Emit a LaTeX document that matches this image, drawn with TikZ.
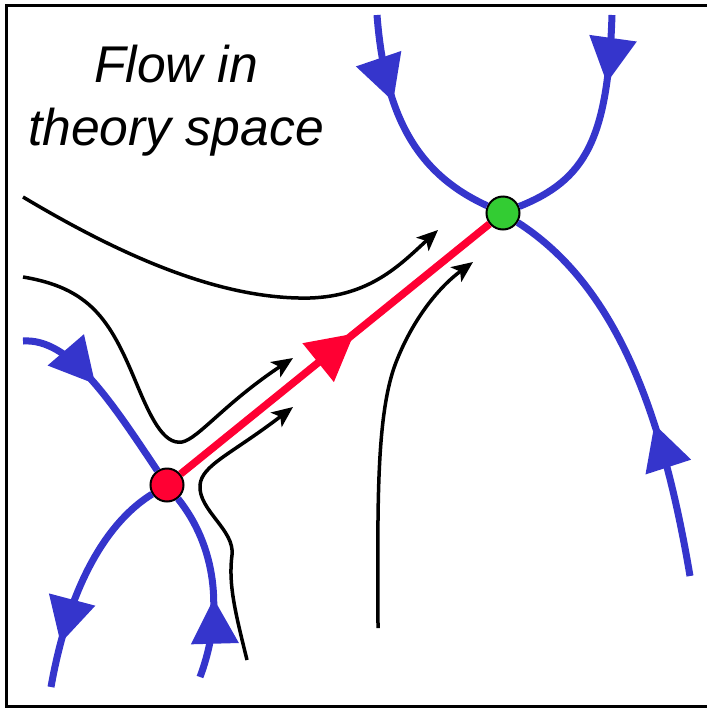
\documentclass[tikz,border=0pt]{standalone}
\usepackage{fontspec}
\setmainfont{Liberation Sans}
\usetikzlibrary{arrows.meta,decorations.markings}
\definecolor{flowblue}{RGB}{53,53,204}
\definecolor{flowred}{RGB}{255,0,51}
\definecolor{flowgreen}{RGB}{51,204,51}

\begin{document}
\begin{tikzpicture}[x=0.1mm, y=-0.1mm,
  fixpt/.style={draw, circle, line width=0.2mm, minimum size=3.3mm, inner sep=0pt},
  manifold/.style={flowblue, line width=0.7mm},
  traj/.style={line width=0.35mm, -{Stealth[length=2.1mm,width=1.8mm,inset=0.5mm]}},
  bluetip/.style={postaction={decorate}, decoration={markings,
    mark=at position #1 with {\arrow{Triangle[length=4.5mm,width=4.8mm,line width=0pt]}}}},
  redtip/.style={postaction={decorate}, decoration={markings,
    mark=at position #1 with {\arrow{Triangle[length=4.6mm,width=5mm,line width=0pt]}}}}]
\clip (0,0) rectangle (707,709);
\draw[line width=0.3mm] (6.5,5) rectangle (730,706.5);

\node[align=center, font=\fontsize{14.7}{17.9}\selectfont\itshape] (title) at (176,101) {Flow in\\theory space};

\node[fixpt, fill=flowred] (uv) at (167,485) {};
\node[fixpt, fill=flowgreen] (ir) at (503,213) {};

\coordinate (a0) at (23,197);
\coordinate (a1) at (438,230);
\coordinate (b0) at (23,277);
\coordinate (b1) at (293,358);
\coordinate (c0) at (247,660);
\coordinate (c1) at (293,407);
\coordinate (d0) at (378,628);
\coordinate (d1) at (473,262);

\coordinate (ul0) at (23,341);
\coordinate (lm0) at (200,677);
\coordinate (ll0) at (51,687);
\coordinate (tl0) at (377,15);
\coordinate (tr0) at (612,15);
\coordinate (br0) at (690,576);

\draw[traj] (a0) .. controls (120,255) and (220,300) .. (310,298) .. controls (370,296) and (400,265) .. (a1);
\draw[traj] (b0) .. controls (90,288) and (110,320) .. (135,380) .. controls (150,416) and (163,445) .. (182,442) .. controls (198,439) and (225,403) .. (b1);
\draw[traj] (c0) .. controls (236,615) and (228,585) .. (232,555) .. controls (235,530) and (198,510) .. (200,485) .. controls (202,465) and (230,455) .. (c1);
\draw[traj] (d0) .. controls (378,520) and (375,420) .. (395,365) .. controls (410,325) and (435,290) .. (d1);

\draw[manifold, bluetip=8.7mm] (ul0) .. controls (70,338) and (110,400) .. (uv);
\draw[manifold, bluetip=8mm] (lm0) .. controls (225,610) and (215,545) .. (uv);
\draw[manifold, bluetip=-4.5mm] (uv) .. controls (110,520) and (70,580) .. (ll0);
\draw[manifold, bluetip=8.8mm] (tl0) .. controls (385,120) and (420,175) .. (ir);
\draw[manifold, bluetip=6.8mm] (tr0) .. controls (608,140) and (585,180) .. (ir);
\draw[manifold, bluetip=15.6mm] (br0) .. controls (662,410) and (615,285) .. (ir);

\draw[flowred, line width=0.75mm, redtip=22.3mm] (uv) -- (ir);
\end{tikzpicture}
\end{document}
